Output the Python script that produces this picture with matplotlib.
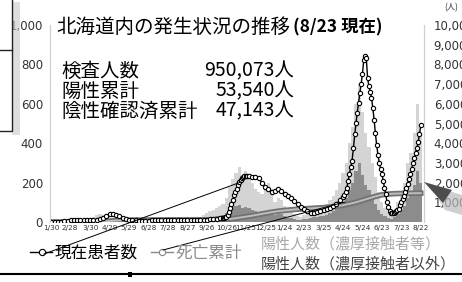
import datetime as dt
import numpy as np
import matplotlib
matplotlib.use('Agg')
import matplotlib.pyplot as plt
from matplotlib.lines import Line2D
from matplotlib.patches import Rectangle, Polygon
import matplotlib.patheffects as pe

plt.rcParams['font.family'] = ['Noto Sans CJK JP', 'DejaVu Sans']

# ---- data ----
start = dt.date(2020, 1, 30)
tick_labels = ['1/30', '2/28', '3/30', '4/29', '5/29', '6/28', '7/28', '8/27', '9/26', '10/26',
               '11/25', '12/25', '1/24', '2/23', '3/25', '4/24', '5/24', '6/23', '7/23', '8/22']
tick_years = [2020] * 12 + [2021] * 8

# current patients (right axis), day offsets from 1/30
patient_days = (list(range(0, 266, 5)) + list(range(266, 303, 2))
                + list(range(305, 451, 5)) + list(range(452, 571, 2)))
patients = [0, 5, 10, 20, 40, 60, 80, 100, 110, 120,
            110, 100, 90, 80, 90, 130, 220, 320, 400, 420,
            380, 300, 220, 160, 120, 100, 80, 70, 60, 60,
            70, 80, 90, 100, 110, 120, 120, 110, 110, 100,
            90, 90, 100, 110, 120, 120, 110, 100, 110, 130,
            150, 170, 180, 200,
            210, 230, 260, 350, 500, 700, 900, 1100, 1350, 1520,
            1700, 1880, 2020, 2150, 2220, 2280, 2320, 2340, 2350,
            2350, 2300, 2260, 2220, 2000, 1800, 1650, 1500, 1550, 1650,
            1560, 1430, 1330, 1220, 1050, 900, 760, 650, 540, 460,
            480, 520, 560, 600, 650, 720, 820, 920, 1100, 1250,
            1350, 1500, 1750, 2100, 2450, 2800, 3100, 3750, 4450, 5000,
            5550, 6050, 6550, 7000, 7500, 8200, 8450, 8300, 7300, 6900,
            6600, 6300, 5800, 5200, 4500, 3900, 3400, 3000, 2700, 2450,
            2100, 1750, 1400, 1000, 750, 550, 470, 440, 460, 500,
            560, 620, 680, 850, 1000, 1150, 1300, 1500, 1720, 1950,
            2200, 2450, 2700, 2980, 3250, 3500, 3750, 4050, 4450, 4900]

# cumulative deaths (right axis), every 10 days
death_days = list(range(0, 571, 10))
deaths = [0, 0, 0, 0, 1, 3, 5, 10, 25, 50,
          75, 90, 95, 98, 100, 101, 102, 103, 104, 105,
          106, 106, 107, 108, 110, 115, 125, 140, 170, 220,
          270, 320, 380, 440, 500, 550, 590, 620, 650, 670,
          690, 710, 730, 760, 800, 850, 920, 1000, 1100, 1200,
          1300, 1380, 1420, 1440, 1450, 1455, 1460, 1465]

# daily positives (left axis), every 5 days
bar_days = list(range(0, 571, 5))
pos_total = [0, 0, 1, 2, 5, 10, 12, 15, 10, 8,
             5, 8, 15, 25, 35, 40, 35, 25, 15, 10,
             5, 3, 8, 5, 3, 3, 5, 5, 8, 10,
             12, 15, 10, 8, 10, 12, 8, 5, 5, 8,
             10, 10, 15, 20, 25, 20, 25, 35, 45, 55,
             60, 70, 80, 90, 120, 180, 220, 250, 280, 230,
             260, 240, 200, 170, 150, 140, 160, 200, 170, 100,
             120, 110, 80, 60, 50, 40, 30, 25, 35, 40,
             50, 60, 60, 70, 80, 90, 110, 130, 160, 200,
             250, 300, 400, 480, 600, 700, 560, 450, 380, 300,
             230, 150, 100, 70, 50, 40, 60, 100, 150, 200,
             300, 350, 450, 600, 450]
pos_other = [0, 0, 0, 1, 2, 4, 5, 6, 4, 3,
             2, 3, 6, 10, 14, 16, 14, 10, 6, 4,
             2, 1, 3, 2, 1, 1, 2, 2, 3, 4,
             5, 6, 4, 3, 4, 5, 3, 2, 2, 3,
             4, 4, 6, 8, 10, 8, 10, 14, 18, 22,
             24, 28, 32, 36, 45, 65, 75, 80, 85, 70,
             75, 70, 60, 55, 50, 45, 55, 60, 50, 35,
             40, 40, 30, 22, 18, 15, 12, 10, 14, 16,
             20, 24, 25, 28, 32, 36, 45, 55, 65, 80,
             100, 120, 160, 200, 260, 300, 240, 190, 160, 120,
             90, 60, 40, 28, 20, 16, 24, 40, 60, 80,
             120, 150, 190, 260, 200]
pos_contact = [t - o for t, o in zip(pos_total, pos_other)]

info_labels = ['検査人数', '陽性累計', '陰性確認済累計']
info_values = ['950,073人', '53,540人', '47,143人']

W, H = 462, 282
def fx(x): return x / W
def fy(y): return 1 - y / H

fig = plt.figure(figsize=(W / 100, H / 100), dpi=100)
ax = fig.add_axes([fx(50), fy(222), fx(424) - fx(50), fy(25) - fy(222)])
ax2 = ax.twinx()

ax.bar(bar_days, pos_other, width=5, color='#8c8c8c', lw=0)
ax.bar(bar_days, pos_contact, width=5, bottom=pos_other, color='#d4d4d4', lw=0)

ax2.plot(death_days, deaths, color='#bdbdbd', lw=1.4,
         path_effects=[pe.Stroke(linewidth=4, foreground='#727272'), pe.Normal()])
ax2.plot(patient_days, patients, color='black', lw=1, marker='o', ms=3.1,
         mfc='white', mec='black', mew=0.8)

ax.set_xlim(-2, 575)
ax.set_ylim(0, 1000)
ax2.set_ylim(0, 10000)

tick_pos = [(dt.date(y, int(s.split('/')[0]), int(s.split('/')[1])) - start).days
            for s, y in zip(tick_labels, tick_years)]
ax.set_xticks(tick_pos)
ax.set_xticklabels(tick_labels, fontsize=5.2, color='#333333',
                   family=['Liberation Sans Narrow', 'DejaVu Sans'])
ax.set_yticks(range(0, 1001, 200))
ax.set_yticklabels(['0', '200', '400', '600', '800', '1,000'], fontsize=8.5,
                   color='#333333', family='DejaVu Sans')
ax2.set_yticks(range(1000, 10001, 1000))
ax2.set_yticklabels([f'{v:,}' for v in range(1000, 10001, 1000)], fontsize=8.5,
                    color='#333333', family='DejaVu Sans')
ax.tick_params(axis='x', length=0, pad=2)
ax.tick_params(axis='y', length=0, pad=5)
ax2.tick_params(axis='y', length=0, pad=7)
for a in (ax, ax2):
    for s in ('top', 'bottom'):
        a.spines[s].set_visible(False)
    a.spines['left'].set_color('#cfcfcf')
    a.spines['right'].set_color('#cfcfcf')
    a.patch.set_visible(False)

# titles and info block
fig.text(fx(56), fy(27), '北海道内の発生状況の推移', fontsize=14, va='center', ha='left')
fig.text(fx(293), fy(27), '(8/23 現在)', fontsize=12.5, fontweight='bold', va='center', ha='left')
fig.text(fx(444), fy(8), '(人)', fontsize=6, va='center', ha='left', color='#333333')
for i, (lab, val) in enumerate(zip(info_labels, info_values)):
    y = 71 + i * 20
    fig.text(fx(61), fy(y), lab, fontsize=14, va='center', ha='left')
    fig.text(fx(294), fy(y), val, fontsize=14, va='center', ha='right')

# legend
fig.add_artist(Line2D([fx(30), fx(52)], [fy(252), fy(252)], color='black', lw=1))
fig.add_artist(Line2D([fx(42)], [fy(252)], marker='o', ms=4.5, mfc='white', mec='black', mew=0.8))
fig.text(fx(55), fy(253), '現在患者数', fontsize=12, va='center', ha='left')
fig.add_artist(Line2D([fx(151), fx(173)], [fy(252), fy(252)], color='#888888', lw=1))
fig.add_artist(Line2D([fx(162)], [fy(252)], marker='o', ms=4.5, mfc='white', mec='#888888', mew=0.8))
fig.text(fx(176), fy(253), '死亡累計', fontsize=12, va='center', ha='left', color='#8a8a8a')
fig.text(fx(261), fy(244), '陽性人数（濃厚接触者等）', fontsize=10.8, va='center', ha='left', color='#a8a8a8')
fig.text(fx(261), fy(264), '陽性人数（濃厚接触者以外）', fontsize=10.8, va='center', ha='left', color='#444444')

# leader lines
fig.add_artist(Line2D([fx(44), fx(241)], [fy(254), fy(182)], color='black', lw=0.7))
fig.add_artist(Line2D([fx(163), fx(345)], [fy(250), fy(202)], color='black', lw=0.7))

# frame bits around the clipping
fig.add_artist(Rectangle((fx(12), fy(135)), fx(8), fy(2) - fy(135), color='#c8c8c8', alpha=0.6, lw=0))
fig.add_artist(Rectangle((fx(-5), fy(131)), fx(17), fy(-5) - fy(131), facecolor='white',
                         edgecolor='#222222', lw=1))
fig.add_artist(Line2D([0, fx(12)], [fy(50), fy(50)], color='#222222', lw=1))
fig.add_artist(Line2D([0, 1], [fy(274), fy(274)], color='black', lw=1.5))
fig.add_artist(Rectangle((fx(128), fy(277)), fx(4), fy(272) - fy(277), color='black', lw=0))
fig.add_artist(Polygon([(fx(430), fy(185)), (fx(462), fy(195)), (fx(462), fy(215)), (fx(445), fy(210))],
                       closed=True, color='#bbbbbb', alpha=0.7, lw=0))
fig.add_artist(Polygon([(fx(424), fy(182)), (fx(452), fy(190)), (fx(443), fy(203))],
                       closed=True, color='#4d4d4d', lw=0))

fig.savefig('out.png', dpi=100)
